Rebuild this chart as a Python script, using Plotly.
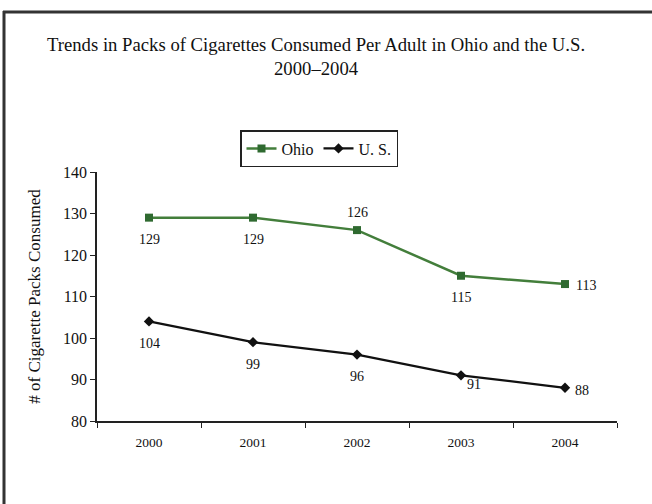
import plotly.graph_objects as go

years = ["2000", "2001", "2002", "2003", "2004"]
ohio = [129, 129, 126, 115, 113]
us = [104, 99, 96, 91, 88]

# label offsets (pixels) for the value labels: (dx, dy)
ohio_off = [(0, -22), (0, -22), (0, 18), (0, -22), (21, -1)]
us_off = [(0, -22), (0, -22), (0, -22), (13, -9), (17, -3)]

W, H = 652, 504
L, R, T, B = 97, 35, 172, 83
pw, ph = W - L - R, H - T - B

def px_x(x):
    return (x - L) / pw

def px_y(y):
    return (H - B - y) / ph

serif = "Liberation Serif, Times New Roman, serif"

fig = go.Figure()
fig.add_trace(go.Scatter(
    x=years, y=ohio, name="Ohio", mode="lines+markers",
    line=dict(color="#437e3b", width=2.5),
    marker=dict(symbol="square", size=8, color="#2f6a30"),
))
fig.add_trace(go.Scatter(
    x=years, y=us, name="U. S.", mode="lines+markers",
    line=dict(color="#111111", width=2.2),
    marker=dict(symbol="diamond", size=8, color="#111111"),
))

annotations = []
for series, offs in ((ohio, ohio_off), (us, us_off)):
    for i, (v, (dx, dy)) in enumerate(zip(series, offs)):
        annotations.append(dict(
            x=i, y=v, xref="x", yref="y", text=str(v), showarrow=False,
            xshift=dx, yshift=dy,
            font=dict(family=serif, size=14, color="#111"),
        ))

annotations.append(dict(
    text="Trends in Packs of Cigarettes Consumed Per Adult in Ohio and the U.S.<br>2000\u20132004",
    xref="paper", yref="paper", x=px_x(316), y=px_y(56),
    xanchor="center", yanchor="middle", showarrow=False,
    font=dict(family=serif, size=18.7, color="#111"),
))

fig.update_layout(
    width=W, height=H,
    margin=dict(l=L, r=R, t=T, b=B),
    paper_bgcolor="white", plot_bgcolor="white",
    font=dict(family=serif, color="#111"),
    legend=dict(
        orientation="h", x=px_x(240), xanchor="left", y=px_y(130), yanchor="top",
        bordercolor="#222", borderwidth=1.5, bgcolor="white",
        font=dict(family=serif, size=16, color="#111"),
        tracegroupgap=0, itemwidth=30,
    ),
    showlegend=True,
    annotations=annotations,
    xaxis=dict(
        type="category", range=[-0.5, 4.5],
        showline=True, linecolor="#222", linewidth=1.5,
        ticks="outside", tickson="boundaries", ticklen=5, tickcolor="#222",
        tickfont=dict(family=serif, size=13.5, color="#111"),
        ticklabelstandoff=8,
        showgrid=False, zeroline=False,
    ),
    yaxis=dict(
        range=[80, 140], dtick=10,
        showline=True, linecolor="#222", linewidth=1.5,
        ticks="outside", ticklen=5, tickcolor="#222",
        tickfont=dict(family=serif, size=16, color="#111"),
        showgrid=False, zeroline=False,
        title=dict(text="# of Cigarette Packs Consumed", standoff=18,
                   font=dict(family=serif, size=17, color="#111")),
    ),
    shapes=[
        dict(type="line", xref="paper", yref="paper",
             x0=px_x(4), x1=px_x(4), y0=px_y(11), y1=px_y(504),
             line=dict(color="#333", width=3)),
        dict(type="line", xref="paper", yref="paper",
             x0=px_x(3), x1=px_x(652), y0=px_y(12), y1=px_y(12),
             line=dict(color="#333", width=3)),
    ],
)

fig.write_html("out.html")
